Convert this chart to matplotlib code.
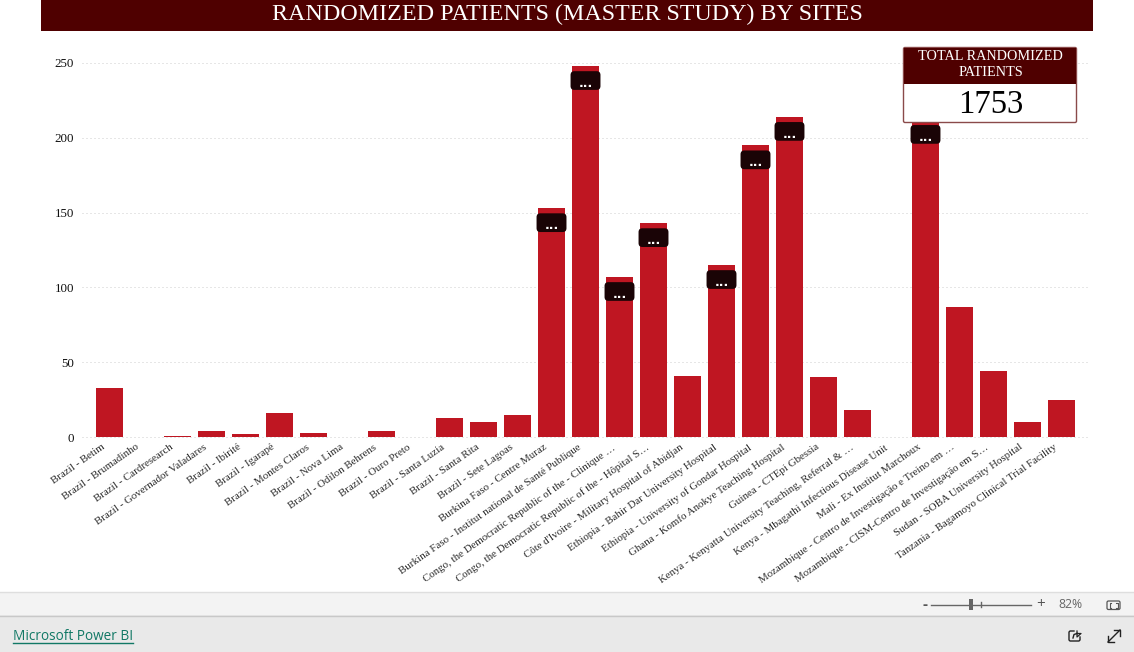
import matplotlib
matplotlib.use('Agg')
import matplotlib.pyplot as plt
from matplotlib.patches import FancyBboxPatch, Rectangle
from matplotlib.transforms import ScaledTranslation

plt.rcParams['font.family'] = ['Liberation Serif', 'DejaVu Serif']

sites = ['Brazil - Betim', 'Brazil - Brumadinho', 'Brazil - Cardresearch',
         'Brazil - Governador Valadares', 'Brazil - Ibirité', 'Brazil - Igarapé',
         'Brazil - Montes Claros', 'Brazil - Nova Lima', 'Brazil - Odilon Behrens',
         'Brazil - Ouro Preto', 'Brazil - Santa Luzia', 'Brazil - Santa Rita',
         'Brazil - Sete Lagoas', 'Burkina Faso - Centre Muraz',
         'Burkina Faso - Institut national de Santé Publique',
         'Congo, the Democratic Republic of the - Clinique …',
         'Congo, the Democratic Republic of the - Hôpital S…',
         "Côte d'Ivoire - Military Hospital of Abidjan",
         'Ethiopia - Bahir Dar University Hospital',
         'Ethiopia - University of Gondar Hospital',
         'Ghana - Komfo Anokye Teaching Hospital', 'Guinea - CTEpi Gbessia',
         'Kenya - Kenyatta University Teaching, Referral & …',
         'Kenya - Mbagathi Infectious Disease Unit', 'Mali - Ex Institut Marchoux',
         'Mozambique - Centro de Investigação e Treino em …',
         'Mozambique - CISM-Centro de Investigação em S…',
         'Sudan - SOBA University Hospital',
         'Tanzania - Bagamoyo Clinical Trial Facility']
patients = [33, 0, 1, 4, 2, 16, 3, 0, 4, 0, 13, 10, 15, 153, 248, 107, 143, 41,
            115, 195, 214, 40, 18, 0, 212, 87, 44, 10, 25]
badge_sites = [13, 14, 15, 16, 18, 19, 20, 24]
yticks = [0, 50, 100, 150, 200, 250]
total = '1753'

W, H = 1134, 652
fig = plt.figure(figsize=(W / 100, H / 100), dpi=100, facecolor='white')

# main chart, placed in pixels
ax = fig.add_axes([82 / W, 1 - 437 / H, (1088 - 82) / W, (437 - 45) / H])
ax.set_xlim(-0.81, 28.78)
ax.set_ylim(0, 262)
ax.bar(range(len(sites)), patients, width=0.8, color='#bf1622', zorder=2)
ax.set_yticks(yticks)
ax.grid(axis='y', color='#cfcfcf', linestyle=(0, (1, 3)), linewidth=0.72, zorder=1)
for l in ax.get_ygridlines():
    l.set_clip_on(False)
ax.set_axisbelow(True)
for s in ax.spines.values():
    s.set_visible(False)
ax.tick_params(axis='y', length=0, pad=5.8, labelsize=9.4, labelcolor='#111111')
ax.tick_params(axis='x', length=0, pad=4)
ax.set_xticks(range(len(sites)))
ax.set_xticklabels(sites, rotation=35, ha='right', va='top', rotation_mode='anchor',
                   fontsize=7.8, color='#2a2a2a')
# labels end just left of the bar centre
shift = ScaledTranslation(-8 / 100, 0, fig.dpi_scale_trans)
for lab in ax.get_xticklabels():
    lab.set_transform(lab.get_transform() + shift)

# the dark "..." badges on the tall bars
for i in badge_sites:
    y = patients[i]
    ax.add_patch(FancyBboxPatch((i - 0.44, y - 16), 0.88, 12.5,
                                boxstyle='round,pad=0,rounding_size=0.11',
                                mutation_aspect=23, facecolor='#1a0406',
                                edgecolor='none', zorder=3))
    ax.text(i, y - 14, '...', color='white', fontsize=9, fontweight='bold', ha='center',
            va='baseline', family='DejaVu Sans', zorder=4)

# overlay in pixel coordinates for title, card and footer
ov = fig.add_axes([0, 0, 1, 1], facecolor='none')
ov.set_xlim(0, W)
ov.set_ylim(H, 0)
ov.axis('off')

ov.add_patch(Rectangle((41, 0), 1052, 30.5, facecolor='#4f0000', edgecolor='none'))
ov.text(567, 14.5, 'RANDOMIZED PATIENTS (MASTER STUDY) BY SITES', color='white',
        fontsize=17.3, ha='center', va='center')

ov.add_patch(FancyBboxPatch((903.5, 47.5), 173, 75, boxstyle='round,pad=0,rounding_size=1.5',
                            facecolor='white', edgecolor='#8a4a4a', linewidth=1))
ov.add_patch(Rectangle((904, 48), 172, 36, facecolor='#4f0000', edgecolor='none'))
ov.text(990.5, 56.5, 'TOTAL RANDOMIZED', color='white', fontsize=10.3, ha='center', va='center')
ov.text(990.5, 72.5, 'PATIENTS', color='white', fontsize=10.3, ha='center', va='center')
ov.text(991, 105, total, color='black', fontsize=23.5, ha='center', va='center')

# footer bars
ov.add_patch(Rectangle((0, 592), W, 23, facecolor='#f3f3f3', edgecolor='none'))
ov.add_patch(Rectangle((0, 615), W, 37, facecolor='#e9e9e9', edgecolor='none'))
ov.plot([0, W], [592, 592], color='#dedede', lw=1)
ov.plot([0, W], [615.5, 615.5], color='#c8c8c8', lw=1)

ui = 'Open Sans'
ov.text(13, 636, 'Microsoft Power BI', family=ui, color='#117865', fontsize=9.8,
        va='center', ha='left')
ov.plot([13, 133], [643, 643], color='#117865', lw=1)

ov.text(925, 604.5, '-', family=ui, color='#555555', fontsize=11, ha='center', va='center',
        fontweight='bold')
ov.plot([931, 1031], [604.5, 604.5], color='#666666', lw=1)
ov.plot([981, 981], [602, 607], color='#666666', lw=1)
ov.add_patch(Rectangle((969, 599), 4, 11, facecolor='#666666', edgecolor='none'))
ov.text(1041, 604, '+', family=ui, color='#555555', fontsize=11, ha='center', va='center')
ov.text(1070, 604.5, '82%', family=ui, color='#666666', fontsize=8.8, ha='center', va='center')

# fit to page icon
ov.add_patch(FancyBboxPatch((1107, 601), 13, 8.5, boxstyle='round,pad=0,rounding_size=1.5',
                            facecolor='none', edgecolor='#555555', linewidth=0.9))
ov.plot([1111, 1109.5, 1109.5, 1111], [603, 603, 607.5, 607.5], color='#555555', lw=0.8)
ov.plot([1116, 1117.5, 1117.5, 1116], [603, 603, 607.5, 607.5], color='#555555', lw=0.8)

# share icon
ov.plot([1074, 1070, 1069, 1069, 1070, 1079, 1080, 1080],
        [631, 631, 632, 640, 641, 641, 640, 637], color='#222222', lw=1)
ov.plot([1073, 1074, 1077], [638, 634.5, 633.5], color='#222222', lw=1)
ov.plot([1077, 1077, 1081, 1077, 1077], [631, 633.5, 633.5, 637, 633.5], color='#222222', lw=0.9)

# expand icon
ov.plot([1108, 1120], [642, 630], color='#222222', lw=1)
ov.plot([1114, 1120, 1120], [630, 630, 636], color='#222222', lw=1)
ov.plot([1108, 1108, 1114], [636, 642, 642], color='#222222', lw=1)

fig.savefig('out.png', dpi=100)
